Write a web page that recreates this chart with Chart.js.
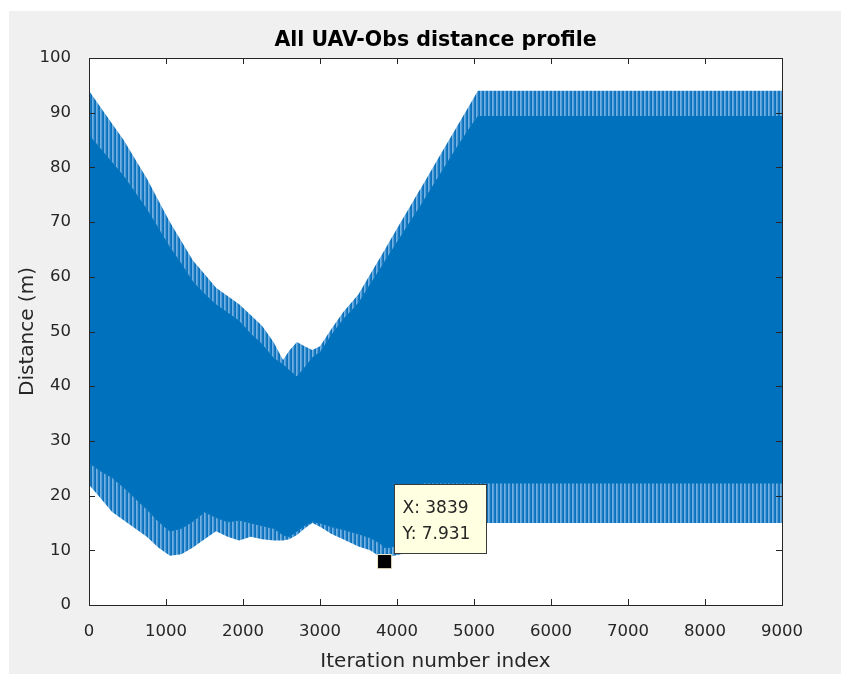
<!DOCTYPE html>
<html>
<head>
<meta charset="utf-8">
<script src="https://cdn.jsdelivr.net/npm/chart.js@4.4.1/dist/chart.umd.min.js"></script>
<style>
  html, body { margin: 0; padding: 0; background: #ffffff; }
  #frame { position: absolute; left: 9px; top: 11px; width: 832px; height: 663px; background: #f0f0f0; }
  #wrap { position: absolute; left: 0; top: 0; width: 841px; height: 674px; }
</style>
</head>
<body>
<div id="frame"></div>
<div id="wrap"><canvas id="c" width="841" height="674"></canvas></div>
<script>
// Iteration index samples shared by the envelope series
const iterations = [0, 150, 300, 450, 600, 750, 900, 1050, 1200, 1350,
  1500, 1650, 1800, 1950, 2100, 2250, 2400, 2520, 2600, 2700,
  2800, 2900, 3000, 3150, 3300, 3500, 3650, 3780, 3839, 3900,
  4050, 4200, 4300, 4310, 4500, 4800, 5000, 5050, 6000, 7000,
  8000, 9000];

// Peak distance reached by the oscillating profile (m)
const upperPeak = [94, 91, 88, 85, 81.5, 78, 74, 70, 66.5, 63,
  60.5, 58, 56.5, 55, 53, 51, 48, 44.8, 46.5, 48.1,
  47.3, 46.6, 47.3, 50.5, 53.5, 56.8, 60.4, 63.5, 64.9, 66.4,
  70, 73.6, 76, 76.2, 80.8, 88, 92.8, 94, 94, 94,
  94, 94];

// Level below which the profile is densely filled (upper side, m)
const upperDense = [86, 83.5, 81, 78.5, 75.5, 72.5, 69, 65.5, 62.5, 59.2,
  57, 55, 53.5, 52, 49.7, 47.7, 45.2, 44.0, 43.0, 41.8,
  43.5, 45.3, 46.3, 49.5, 52.3, 55.3, 58.7, 61.5, 62.9, 64.2,
  67.5, 70.8, 73, 73.2, 77.5, 84.3, 88.5, 89.4, 89.4, 89.4,
  89.4, 89.4];

// Level above which the profile is densely filled (lower side, m)
const lowerDense = [26, 24.5, 23.3, 21.5, 19.5, 17.5, 15.3, 13.5, 14, 15.3,
  17, 16, 15.2, 15.5, 15, 14.5, 14, 12.8, 12.5, 13.5,
  14.5, 15.2, 15, 14.3, 13.8, 13, 12.3, 11.3, 10.5, 10.5,
  11, 11, 11, 22.3, 22.3, 22.3, 22.3, 22.3, 22.3, 22.3,
  22.3, 22.3];

// Minimum distance reached by the oscillating profile (m)
const lowerPeak = [22, 19.5, 17, 15.5, 14, 12.5, 10.5, 9, 9.3, 10.5,
  12, 13.5, 12.5, 11.8, 12.5, 12, 11.8, 11.8, 12, 12.8,
  14, 15, 14.3, 13, 12, 10.7, 10, 8.8, 7.931, 8.8,
  9.3, 9.5, 9.6, 15, 15, 15, 15, 15, 15, 15,
  15, 15];

// Data cursor on the closest approach
const cursorX = [3839];
const cursorY = [7.931];

// Axis tick labels
const xTicks = [0, 1000, 2000, 3000, 4000, 5000, 6000, 7000, 8000, 9000];
const yTicks = [0, 10, 20, 30, 40, 50, 60, 70, 80, 90, 100];

const BLUE = '#0072BD';
const AXIS = '#262626';
const FONT = "'DejaVu Sans', 'Liberation Sans', Arial, sans-serif";

// Vertical hatch used where the trace lines thin out near the envelope
function stripePattern() {
  const c = document.createElement('canvas');
  c.width = 4; c.height = 1;
  const g = c.getContext('2d');
  ['#72b1e2', '#4f9dd8', '#1b7bc2', '#0b70b9'].forEach((col, i) => {
    g.fillStyle = col; g.fillRect(i, 0, 1, 1);
  });
  return g.createPattern(c, 'repeat');
}
const hatch = stripePattern();

const pts = ys => iterations.map((x, i) => ({ x: x, y: ys[i] }));

// White plot background
const plotBackground = {
  id: 'plotBackground',
  beforeDraw(chart) {
    const { ctx, chartArea: a } = chart;
    ctx.save();
    ctx.fillStyle = '#ffffff';
    ctx.fillRect(a.left, a.top, a.right - a.left, a.bottom - a.top);
    ctx.restore();
  }
};

// Box outline with inward tick marks on all four sides
const axesBox = {
  id: 'axesBox',
  afterDatasetsDraw(chart) {
    const { ctx, chartArea: a, scales } = chart;
    const len = 6;
    ctx.save();
    ctx.strokeStyle = AXIS;
    ctx.lineWidth = 1;
    ctx.beginPath();
    xTicks.forEach(v => {
      const px = Math.round(scales.x.getPixelForValue(v)) + 0.5;
      ctx.moveTo(px, a.bottom); ctx.lineTo(px, a.bottom - len);
      ctx.moveTo(px, a.top); ctx.lineTo(px, a.top + len);
    });
    yTicks.forEach(v => {
      const py = Math.round(scales.y.getPixelForValue(v)) + 0.5;
      ctx.moveTo(a.left, py); ctx.lineTo(a.left + len, py);
      ctx.moveTo(a.right, py); ctx.lineTo(a.right - len, py);
    });
    ctx.stroke();
    ctx.strokeRect(Math.round(a.left) + 0.5, Math.round(a.top) + 0.5,
      Math.round(a.right - a.left), Math.round(a.bottom - a.top));
    ctx.restore();
  }
};

// Data cursor label box
const dataTip = {
  id: 'dataTip',
  afterDraw(chart) {
    const { ctx, scales } = chart;
    const px = scales.x.getPixelForValue(cursorX[0]);
    const py = scales.y.getPixelForValue(cursorY[0]);
    const bx = Math.round(px + 9) + 0.5, bw = 92, bh = 69;
    const by = Math.round(py - 9 - bh) + 0.5;
    ctx.save();
    ctx.fillStyle = '#ffffe1';
    ctx.strokeStyle = '#3a3a3a';
    ctx.lineWidth = 1;
    ctx.fillRect(bx, by, bw, bh);
    ctx.strokeRect(bx, by, bw, bh);
    ctx.fillStyle = AXIS;
    ctx.font = '17px ' + FONT;
    ctx.textBaseline = 'middle';
    ctx.textAlign = 'left';
    ctx.fillText('X: ' + cursorX[0], bx + 8, by + 24);
    ctx.fillText('Y: ' + cursorY[0], bx + 8, by + 50);
    ctx.restore();
  }
};

new Chart(document.getElementById('c'), {
  type: 'line',
  data: {
    datasets: [
      { data: pts(lowerPeak), borderWidth: 0, pointRadius: 0, fill: false, order: 4 },
      { data: pts(lowerDense), borderColor: BLUE, borderWidth: 1, pointRadius: 0,
        fill: '-1', backgroundColor: hatch, order: 3 },
      { data: pts(upperDense), borderColor: BLUE, borderWidth: 1, pointRadius: 0,
        fill: '-1', backgroundColor: BLUE, order: 2 },
      { data: pts(upperPeak), borderWidth: 0, pointRadius: 0,
        fill: '-1', backgroundColor: hatch, order: 1 },
      { type: 'scatter', data: cursorX.map((x, i) => ({ x: x, y: cursorY[i] })),
        pointStyle: 'rect', pointRadius: 10, pointBackgroundColor: '#000000',
        pointBorderColor: '#efe9c8', pointBorderWidth: 1, showLine: false, order: 0 }
    ]
  },
  options: {
    responsive: false,
    animation: false,
    devicePixelRatio: 1,
    layout: { padding: { left: 0, right: 59, top: 0, bottom: 0 } },
    plugins: {
      legend: { display: false },
      tooltip: { enabled: false },
      title: {
        display: true,
        fullSize: false,
        text: 'All UAV-Obs distance profile',
        color: '#000000',
        font: { family: FONT, size: 20.5, weight: 'bold' },
        padding: { top: 28, bottom: 5.4 }
      }
    },
    scales: {
      x: {
        type: 'linear', min: 0, max: 9000,
        grid: { display: false },
        border: { display: false },
        afterBuildTicks: s => { s.ticks = xTicks.map(v => ({ value: v })); },
        afterFit: s => { s.height = 69; },
        ticks: { color: AXIS, padding: 9, maxRotation: 0, autoSkip: false,
          callback: v => String(v),
          font: { family: FONT, size: 16.5 } },
        title: { display: true, text: 'Iteration number index', color: AXIS,
          font: { family: FONT, size: 20 }, padding: { top: 0, bottom: 0 } }
      },
      y: {
        type: 'linear', min: 0, max: 100,
        grid: { display: false },
        border: { display: false },
        afterBuildTicks: s => { s.ticks = yTicks.map(v => ({ value: v })); },
        afterFit: s => { s.width = 89; },
        ticks: { color: AXIS, padding: 10, autoSkip: false,
          callback: v => String(v),
          font: { family: FONT, size: 16.5 } },
        title: { display: true, text: 'Distance (m)', color: AXIS,
          font: { family: FONT, size: 20 }, padding: { top: 16, bottom: 0 } }
      }
    }
  },
  plugins: [plotBackground, axesBox, dataTip]
});
</script>
</body>
</html>
